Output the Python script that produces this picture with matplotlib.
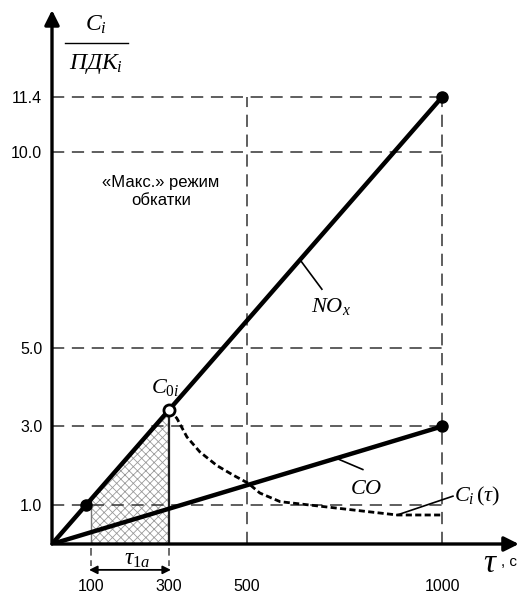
import matplotlib
matplotlib.use("Agg")
import matplotlib.pyplot as plt
from matplotlib.lines import Line2D

plt.rcParams['font.family'] = ['Liberation Sans', 'DejaVu Sans']
plt.rcParams['mathtext.fontset'] = 'custom'
plt.rcParams['mathtext.it'] = 'Liberation Serif:italic'
plt.rcParams['mathtext.rm'] = 'Liberation Serif'
plt.rcParams['mathtext.bf'] = 'Liberation Serif:bold'
plt.rcParams['hatch.linewidth'] = 0.6

# ---- data ----
x_ticks = [100, 300, 500, 1000]
x_tick_labels = ['100', '300', '500', '1000']
y_ticks = [1.0, 3.0, 5.0, 10.0, 11.4]
y_tick_labels = ['1.0', '3.0', '5.0', '10.0', '11.4']

nox_tau = [0, 1000]
nox_val = [0, 11.4]
co_tau = [0, 1000]
co_val = [0, 3.0]

ci_tau = [300, 320, 346, 379, 423, 464, 503, 533, 585, 700, 885, 1000]
ci_val = [3.42, 3.21, 2.73, 2.35, 2.0, 1.76, 1.55, 1.3, 1.08, 0.95, 0.74, 0.74]

hatch_tau = [100, 300]
hatch_top = [1.14, 3.42]

nox_point_tau = [87.7, 1000]
nox_point_val = [1.0, 11.4]
co_point_tau = [1000]
co_point_val = [3.0]
c0_tau = 300
c0_val = 3.42

W, H = 520, 595
fig = plt.figure(figsize=(W / 100, H / 100), dpi=100)
ax = fig.add_axes([52 / W, (H - 544) / H, 468 / W, 544 / H])
ax.set_xlim(0, 1200)
ax.set_ylim(0, 544 / 39.2)
for s in ax.spines.values():
    s.set_visible(False)

ax.set_xticks(x_ticks, x_tick_labels, fontsize=11.5)
ax.set_yticks(y_ticks, y_tick_labels, fontsize=11.5)
ax.tick_params(axis='x', length=0, pad=25)
ax.tick_params(axis='y', length=0, pad=7)

grid_kw = dict(color='#333333', lw=1.1, dashes=(8, 5), zorder=2.5)
# horizontal dashed guides
for yv in y_ticks:
    ax.plot([0, 1000], [yv, yv], **grid_kw)
# vertical dashed guides
for xv in [500, 1000]:
    ax.plot([xv, xv], [0, 11.4], **grid_kw)

# hatched area
ax.fill_between(hatch_tau, [0, 0], hatch_top, facecolor='white',
                edgecolor='#999999', hatch='xxxx', linewidth=0, zorder=2)
ax.plot([100, 100], [0, hatch_top[0]], color='#777777', lw=1.0, zorder=3)
ax.plot([300, 300], [0, hatch_top[1]], color='#222222', lw=1.6, zorder=3)

# dashed ticks below axis for tau_1a
for xv in hatch_tau:
    ax.plot([xv, xv], [-0.1, -0.55], color='#444444', lw=1.1,
            dashes=(5, 3), clip_on=False)
ax.annotate('', xy=(95, -0.66), xytext=(305, -0.66),
            arrowprops=dict(arrowstyle='<|-|>', color='black', lw=1.3,
                            mutation_scale=12, shrinkA=0, shrinkB=0),
            annotation_clip=False)
ax.text(218, -0.38, r'$\tau_{1a}$', fontsize=17, ha='center', va='center',
        clip_on=False)

# main lines
ax.plot(nox_tau, nox_val, color='black', lw=3.2, solid_capstyle='round', zorder=4)
ax.plot(co_tau, co_val, color='black', lw=3.2, solid_capstyle='round', zorder=4)
ax.plot(ci_tau, ci_val, color='black', lw=2.0, dashes=(2.2, 1.2), zorder=4)

ax.plot(nox_point_tau, nox_point_val, 'o', color='black', ms=8, zorder=5)
ax.plot(co_point_tau, co_point_val, 'o', color='black', ms=8, zorder=5)
ax.plot([c0_tau], [c0_val], 'o', mfc='white', mec='black', mew=2, ms=8, zorder=6)

# axes with arrows
ax.annotate('', xy=(1197, 0), xytext=(0, 0),
            arrowprops=dict(arrowstyle='-|>', color='black', lw=2.4,
                            mutation_scale=22, shrinkA=0, shrinkB=0),
            annotation_clip=False, zorder=7)
ax.annotate('', xy=(0, 13.62), xytext=(0, 0),
            arrowprops=dict(arrowstyle='-|>', color='black', lw=2.4,
                            mutation_scale=22, shrinkA=0, shrinkB=0),
            annotation_clip=False, zorder=7)

# pointers and labels
ax.plot([636, 692], [7.25, 6.5], color='black', lw=1.2, zorder=4)
ax.text(715, 6.05, r'$NO_x$', fontsize=16, ha='center', va='center')
ax.plot([726, 797], [2.2, 1.9], color='black', lw=1.2, zorder=4)
ax.text(805, 1.42, r'$CO$', fontsize=16, ha='center', va='center')
ax.plot([885, 1028], [0.74, 1.22], color='black', lw=1.2, zorder=4)
ax.text(1030, 1.2, r'$C_i\,(\tau)$', fontsize=16, ha='left', va='center')
ax.text(290, 3.98, r'$C_{0i}$', fontsize=16, ha='center', va='center')

ax.text(279, 9.0, '«Макс.» режим\nобкатки', fontsize=12, ha='center',
        va='center', linespacing=1.25)

# x-axis label
ax.text(1125, -0.5, r'$\tau$', fontsize=24, ha='center', va='center', clip_on=False)
ax.text(1152, -0.45, ', с', fontsize=11, ha='left', va='center', clip_on=False)

# y-axis label as a fraction
fig.text(96 / W, 1 - 25 / H, r'$C_i$', fontsize=17, ha='center', va='center')
fig.add_artist(Line2D([65 / W, 128 / W], [1 - 43 / H, 1 - 43 / H],
                      color='black', lw=1.0, transform=fig.transFigure))
fig.text(96 / W, 1 - 64 / H, r'$ПДК_i$', fontsize=17, ha='center', va='center')

fig.savefig('out.png', dpi=100)
